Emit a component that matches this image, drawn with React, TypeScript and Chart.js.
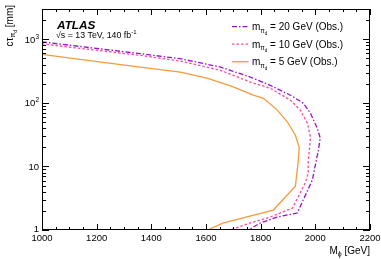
import React, { useEffect, useRef } from "react";
import { Chart, registerables } from "chart.js";

Chart.register(...registerables);

// m_pi_d = 5 GeV (Obs.)
const m5Mass = [1000, 1195, 1360, 1506, 1604, 1700, 1773, 1810, 1861, 1898, 1927, 1941, 1938, 1927, 1846, 1664, 1605];
const m5Ctau = [580, 450, 366, 305, 246, 178, 132, 118, 77, 50, 31, 20, 12.6, 4.9, 2.06, 1.29, 1.0];
// m_pi_d = 10 GeV (Obs.)
const m10Mass = [1000, 1360, 1506, 1653, 1762, 1835, 1909, 1945, 1971, 1982, 1978, 1974, 1974, 1963, 1916, 1897, 1835, 1762, 1689];
const m10Ctau = [847, 559, 455, 325, 213, 170, 110, 77, 48, 29, 18, 12.6, 7.9, 5.5, 2.2, 2.06, 1.6, 1.29, 1.0];
// m_pi_d = 20 GeV (Obs.)
const m20Mass = [1000, 1360, 1506, 1653, 1762, 1835, 1909, 1956, 1982, 2007, 2018, 2011, 1989, 1952, 1934, 1861, 1799, 1755];
const m20Ctau = [911, 594, 496, 366, 255, 189, 132, 99, 69, 40, 28, 18, 6.1, 2.75, 1.85, 1.6, 1.29, 1.0];

const xTickLabels = ["1000", "1200", "1400", "1600", "1800", "2000", "2200"];
const yTickValues = [1, 10, 100, 1000];
const legendLabels = ["20", "10", "5"];

const X_MIN = 1000;
const X_MAX = 2200;
const Y_MIN = 1;
const Y_MAX = 3000;

const FONT = "'Liberation Sans', Arial, Helvetica, sans-serif";
const PURPLE = "#9a10d0";
const PINK = "#ff4a98";
const ORANGE = "#f59a3e";

type Part = { t: string; size: number; dy?: number; style?: string };

function drawParts(ctx: CanvasRenderingContext2D, parts: Part[], x: number, y: number, measureOnly = false): number {
  let cx = x;
  for (const p of parts) {
    ctx.font = `${p.style ?? ""} ${p.size}px ${FONT}`;
    if (!measureOnly) ctx.fillText(p.t, cx, y + (p.dy ?? 0));
    cx += ctx.measureText(p.t).width;
  }
  return cx - x;
}

const framePlugin = {
  id: "atlasFrame",
  afterDraw(chart: any) {
    const ctx: CanvasRenderingContext2D = chart.ctx;
    const { left, right, top, bottom } = chart.chartArea;
    const xs = chart.scales.x;
    const ys = chart.scales.y;
    ctx.save();
    ctx.strokeStyle = "#000";
    ctx.fillStyle = "#000";
    ctx.lineWidth = 1;
    ctx.strokeRect(left + 0.5, top + 0.5, right - left - 1, bottom - top - 1);

    // x ticks
    ctx.beginPath();
    for (let v = X_MIN; v <= X_MAX; v += 50) {
      const px = Math.round(xs.getPixelForValue(v)) + 0.5;
      const len = v % 200 === 0 ? 6 : 3;
      ctx.moveTo(px, bottom);
      ctx.lineTo(px, bottom - len);
      ctx.moveTo(px, top);
      ctx.lineTo(px, top + len);
    }
    // y ticks
    for (const d of yTickValues) {
      for (let k = 1; k <= 9; k++) {
        const v = k * d;
        if (v < Y_MIN || v > Y_MAX) continue;
        const py = Math.round(ys.getPixelForValue(v)) + 0.5;
        const len = k === 1 ? 7 : 4;
        ctx.moveTo(left, py);
        ctx.lineTo(left + len, py);
        ctx.moveTo(right, py);
        ctx.lineTo(right - len, py);
      }
    }
    ctx.stroke();

    // x tick labels
    ctx.textAlign = "center";
    ctx.textBaseline = "alphabetic";
    ctx.font = `9.5px ${FONT}`;
    for (const lab of xTickLabels) {
      const v = Number(lab);
      ctx.fillText(lab, xs.getPixelForValue(v), bottom + 11);
    }

    // y tick labels
    ctx.textAlign = "left";
    for (const v of yTickValues) {
      const py = ys.getPixelForValue(v);
      let parts: Part[];
      if (v === 1) parts = [{ t: "1", size: 9.5 }];
      else if (v === 10) parts = [{ t: "10", size: 9.5 }];
      else parts = [{ t: "10", size: 9.5 }, { t: String(Math.round(Math.log10(v))), size: 6.5, dy: -4 }];
      const w = drawParts(ctx, parts, 0, 0, true);
      const yy = v === 1 ? py + 2 : py + 3.5;
      drawParts(ctx, parts, left - 3 - w, yy);
    }

    // x title
    const xt: Part[] = [
      { t: "M", size: 10 },
      { t: "\u03d5", size: 7, dy: 2.5 },
      { t: " [GeV]", size: 10 },
    ];
    const xw = drawParts(ctx, xt, 0, 0, true);
    drawParts(ctx, xt, right - xw, bottom + 23.5);

    // y title (rotated)
    const yt: Part[] = [
      { t: "c\u03c4", size: 10 },
      { t: "\u03c0", size: 7, dy: 2.5 },
      { t: "d", size: 5, dy: 4.5 },
      { t: " [mm]", size: 10 },
    ];
    const yw = drawParts(ctx, yt, 0, 0, true);
    ctx.save();
    ctx.translate(12.5, 5);
    ctx.rotate(-Math.PI / 2);
    drawParts(ctx, yt, -yw, 0);
    ctx.restore();

    // ATLAS label
    drawParts(ctx, [{ t: "ATLAS", size: 11.8, style: "italic bold" }], 57, 28.5);
    drawParts(
      ctx,
      [
        { t: "\u221as = 13 TeV, 140 fb", size: 8.8 },
        { t: "-1", size: 6, dy: -4 },
      ],
      56,
      38
    );

    // legend
    const colors = [PURPLE, PINK, ORANGE];
    const dashes = [[5, 2, 1.5, 2], [2.5, 2], []];
    const rows = [26.7, 44.2, 61.7];
    for (let i = 0; i < 3; i++) {
      ctx.save();
      ctx.strokeStyle = colors[i];
      ctx.lineWidth = 1.3;
      ctx.setLineDash(dashes[i]);
      ctx.beginPath();
      ctx.moveTo(232, rows[i]);
      ctx.lineTo(248.5, rows[i]);
      ctx.stroke();
      ctx.restore();
      drawParts(
        ctx,
        [
          { t: "m", size: 10 },
          { t: "\u03c0", size: 6.5, dy: 2.5 },
          { t: "d", size: 4.5, dy: 4.5 },
          { t: ` = ${legendLabels[i]} GeV (Obs.)`, size: 10 },
        ],
        252,
        rows[i] + 3.6
      );
    }
    ctx.restore();
  },
};

function toPoints(xs: number[], ys: number[]) {
  return xs.map((x, i) => ({ x, y: ys[i] }));
}

export default function App() {
  const ref = useRef<HTMLCanvasElement | null>(null);
  useEffect(() => {
    document.body.style.margin = "0";
    const canvas = ref.current;
    if (!canvas) return;
    const chart = new Chart(canvas, {
      type: "scatter",
      data: {
        datasets: [
          {
            label: "m = 20 GeV (Obs.)",
            data: toPoints(m20Mass, m20Ctau),
            showLine: true,
            borderColor: PURPLE,
            borderWidth: 1.3,
            borderDash: [5, 2, 1.5, 2],
            pointRadius: 0,
            tension: 0,
          },
          {
            label: "m = 10 GeV (Obs.)",
            data: toPoints(m10Mass, m10Ctau),
            showLine: true,
            borderColor: PINK,
            borderWidth: 1.3,
            borderDash: [2.5, 2],
            pointRadius: 0,
            tension: 0,
          },
          {
            label: "m = 5 GeV (Obs.)",
            data: toPoints(m5Mass, m5Ctau),
            showLine: true,
            borderColor: ORANGE,
            borderWidth: 1.3,
            pointRadius: 0,
            tension: 0,
          },
        ],
      },
      options: {
        animation: false,
        responsive: false,
        devicePixelRatio: 1,
        layout: { padding: { left: 42, right: 11, top: 9, bottom: 29 } },
        plugins: { legend: { display: false }, tooltip: { enabled: false } },
        scales: {
          x: { type: "linear", min: X_MIN, max: X_MAX, display: false },
          y: { type: "logarithmic", min: Y_MIN, max: Y_MAX, display: false },
        },
      },
      plugins: [framePlugin],
    });
    return () => chart.destroy();
  }, []);
  return (
    <div style={{ width: 381, height: 259, background: "#fff" }}>
      <canvas ref={ref} width={381} height={259} style={{ display: "block" }} />
    </div>
  );
}
